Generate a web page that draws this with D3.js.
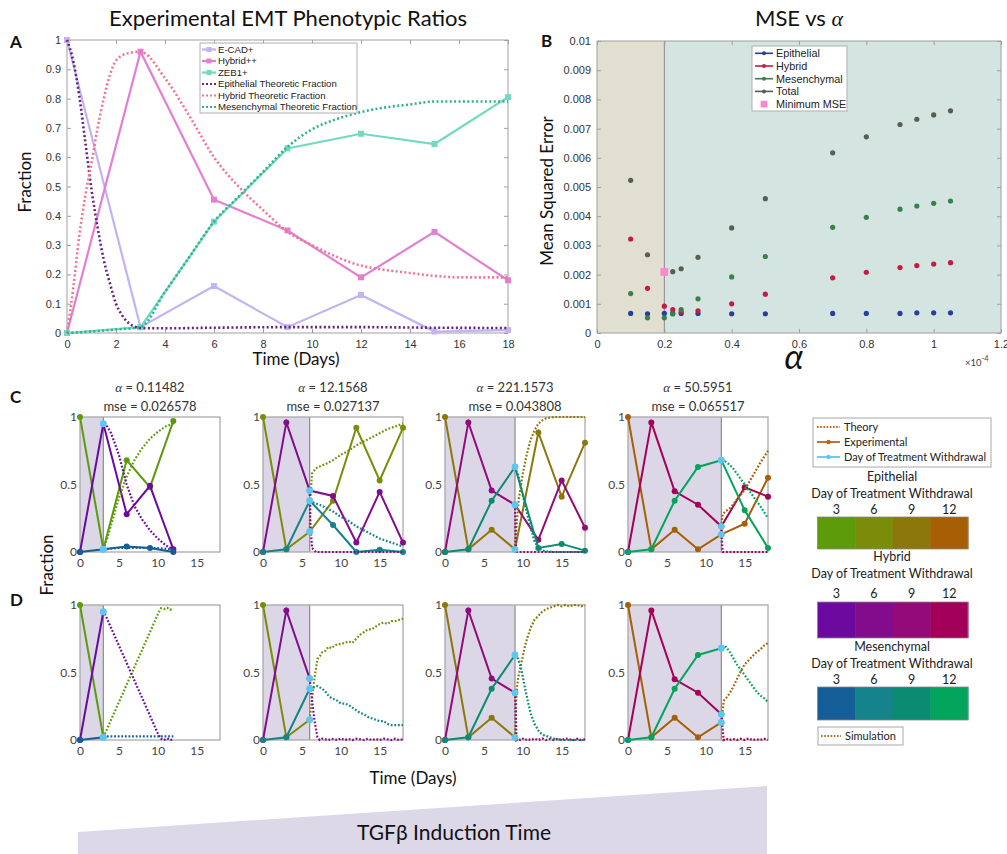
<!DOCTYPE html>
<html>
<head>
<meta charset="utf-8">
<script src="https://cdn.jsdelivr.net/npm/d3@7"></script>
<style>
    body { margin: 0; background: #fff; }
    svg text { font-family: Lato, "Open Sans", sans-serif; }
    .mat text { font-family: "Liberation Sans", Arial, sans-serif; }
</style>
</head>
<body>
<svg id="fig" width="1007" height="854"></svg>
<script>
// ---------------- Panel A data ----------------
var daysA = [0, 3, 6, 9, 12, 15, 18];
var ecadA = [1.0, 0.02, 0.16, 0.02, 0.13, 0.005, 0.01];
var hybridA = [0, 0.96, 0.455, 0.35, 0.19, 0.345, 0.18];
var zebA = [0, 0.02, 0.38, 0.63, 0.68, 0.645, 0.805];

var epiTheoryTA = [0, 0.25, 0.5, 0.75, 1, 1.25, 1.5, 1.75, 2, 2.25, 2.5, 2.75, 3, 4, 6, 9, 12, 15, 18];
var epiTheoryA = [1.0, 0.93, 0.81, 0.65, 0.49, 0.36, 0.25, 0.17, 0.1, 0.06, 0.035, 0.022, 0.017, 0.016, 0.018, 0.02, 0.02, 0.018, 0.017];
var hybTheoryTA = [0, 0.25, 0.5, 0.75, 1, 1.25, 1.5, 1.75, 2, 2.5, 3, 4, 5, 6, 7, 8, 9, 10, 11, 12, 13, 14, 15, 16, 17, 18];
var hybTheoryA = [0, 0.15, 0.33, 0.47, 0.58, 0.7, 0.8, 0.88, 0.93, 0.955, 0.96, 0.87, 0.74, 0.6, 0.5, 0.42, 0.345, 0.3, 0.26, 0.23, 0.215, 0.205, 0.195, 0.19, 0.19, 0.19];
var mesTheoryTA = [0, 1, 2, 3, 4, 5, 6, 7, 8, 9, 10, 11, 12, 13, 14, 15, 16, 17, 18];
var mesTheoryA = [0, 0.005, 0.012, 0.02, 0.14, 0.26, 0.38, 0.465, 0.55, 0.635, 0.695, 0.73, 0.754, 0.77, 0.78, 0.79, 0.79, 0.79, 0.79];

var xTicksA = [0, 2, 4, 6, 8, 10, 12, 14, 16, 18];
var yTicksA = [0, 0.1, 0.2, 0.3, 0.4, 0.5, 0.6, 0.7, 0.8, 0.9, 1];
var legendA = ["E-CAD+", "Hybrid++", "ZEB1+", "Epithelial Theoretic Fraction", "Hybrid Theoretic Fraction", "Mesenchymal Theoretic Fraction"];

// ---------------- Panel B data ----------------
var alphaB = [0.1, 0.15, 0.2, 0.225, 0.25, 0.3, 0.4, 0.5, 0.7, 0.8, 0.9, 0.95, 1.0, 1.05];
var epiB = [0.00067, 0.00066, 0.00067, 0.00067, 0.00067, 0.00067, 0.00066, 0.00066, 0.00067, 0.00067, 0.00067, 0.00069, 0.00069, 0.00069];
var hybB = [0.00322, 0.00153, 0.00092, 0.0008, 0.00072, 0.00076, 0.001, 0.00133, 0.00189, 0.00208, 0.00224, 0.00231, 0.00236, 0.00241];
var mesB = [0.00135, 0.00052, 0.00052, 0.00065, 0.0008, 0.00117, 0.00192, 0.00262, 0.00362, 0.00396, 0.00424, 0.00435, 0.00444, 0.00452];
var totB = [0.00523, 0.00268, 0.00209, 0.0021, 0.0022, 0.00259, 0.0036, 0.0046, 0.00617, 0.00672, 0.00714, 0.00732, 0.00747, 0.00761];
var minMSE = [0.2, 0.00209];
var xTicksB = [0, 0.2, 0.4, 0.6, 0.8, 1, 1.2];
var yTicksB = [0, 0.001, 0.002, 0.003, 0.004, 0.005, 0.006, 0.007, 0.008, 0.009, 0.01];
var legendB = ["Epithelial", "Hybrid", "Mesenchymal", "Total", "Minimum MSE"];

// ---------------- Panels C / D data ----------------
var withdrawDays = [3, 6, 9, 12];
var alphaLabels = ["0.11482", "12.1568", "221.1573", "50.5951"];
var mseLabels = ["0.026578", "0.027137", "0.043808", "0.065517"];

var expDays = [[0, 3, 6, 9, 12], [0, 3, 6, 9, 12, 15, 18], [0, 3, 6, 9, 12, 15, 18], [0, 3, 6, 9, 12, 15, 18]];
var epiExp = [[1, 0.02, 0.68, 0.48, 0.97], [1, 0.02, 0.15, 0.38, 0.92, 0.53, 0.92], [1, 0.02, 0.165, 0.02, 0.885, 0.41, 0.81], [1, 0.02, 0.165, 0.02, 0.13, 0.21, 0.55]];
var hybExp = [[0, 0.95, 0.28, 0.49, 0.02], [0, 0.96, 0.455, 0.415, 0.07, 0.445, 0.07], [0, 0.96, 0.455, 0.35, 0.09, 0.53, 0.18], [0, 0.96, 0.45, 0.35, 0.19, 0.48, 0.41]];
var mesExp = [[0, 0.02, 0.04, 0.03, 0.0], [0, 0.02, 0.38, 0.2, 0.0, 0.017, 0.0], [0, 0.02, 0.38, 0.63, 0.03, 0.06, 0.01], [0, 0.02, 0.38, 0.63, 0.68, 0.31, 0.03]];

var theoryT = [
    [3, 3.5, 4, 5, 6, 7, 8, 9, 10, 11, 12],
    [6, 6.1, 6.3, 6.8, 7.5, 8, 9, 10, 11, 12, 13, 14, 15, 16, 17, 18],
    [9, 9.1, 9.2, 9.5, 10, 10.5, 11, 11.5, 12, 12.5, 13, 14, 15, 16, 17, 18],
    [12, 12.1, 12.2, 12.5, 13, 13.5, 14, 15, 16, 17, 18]
];
var epiTheory = [
    [0.02, 0.1, 0.2, 0.4, 0.56, 0.68, 0.77, 0.84, 0.89, 0.93, 0.95],
    [0.15, 0.4, 0.58, 0.62, 0.64, 0.65, 0.68, 0.72, 0.75, 0.79, 0.82, 0.85, 0.88, 0.91, 0.93, 0.95],
    [0.02, 0.12, 0.2, 0.4, 0.58, 0.72, 0.83, 0.9, 0.95, 0.975, 0.99, 1.0, 1.0, 1.0, 1.0, 1.0],
    [0.13, 0.26, 0.28, 0.3, 0.32, 0.35, 0.39, 0.46, 0.56, 0.66, 0.75]
];
var hybTheory = [
    [0.95, 0.93, 0.88, 0.72, 0.5, 0.34, 0.24, 0.16, 0.1, 0.05, 0.02],
    [0.455, 0.2, 0.03, 0.0, 0.0, 0.0, 0.0, 0.0, 0.0, 0.0, 0.0, 0.0, 0.0, 0.0, 0.0, 0.0],
    [0.35, 0.05, 0.0, 0.0, 0.0, 0.0, 0.0, 0.0, 0.0, 0.0, 0.0, 0.0, 0.0, 0.0, 0.0, 0.0],
    [0.19, 0.05, 0.0, 0.0, 0.0, 0.0, 0.0, 0.0, 0.0, 0.0, 0.0]
];
var mesTheory = [
    [0.02, 0.022, 0.025, 0.03, 0.03, 0.03, 0.03, 0.03, 0.028, 0.025, 0.02],
    [0.38, 0.375, 0.37, 0.36, 0.345, 0.33, 0.3, 0.26, 0.23, 0.19, 0.16, 0.13, 0.1, 0.08, 0.06, 0.04],
    [0.63, 0.62, 0.6, 0.55, 0.42, 0.3, 0.18, 0.08, 0.03, 0.012, 0.005, 0.0, 0.0, 0.0, 0.0, 0.0],
    [0.68, 0.68, 0.675, 0.67, 0.65, 0.62, 0.58, 0.5, 0.42, 0.34, 0.25]
];

var simT = [
    [3, 4, 5, 6, 7, 8, 9, 10, 10.4, 10.8, 11.2, 11.6, 12],
    [6, 6.3, 6.6, 7, 7.3, 7.6, 8, 8.4, 8.8, 9.2, 9.6, 10, 10.5, 11, 11.5, 12, 12.5, 13, 13.5, 14, 14.5, 15, 15.5, 16, 16.5, 17, 17.5, 18],
    [9, 9.2, 9.4, 9.7, 10, 10.3, 10.6, 11, 11.5, 12, 12.5, 13, 13.5, 14, 14.5, 15, 15.5, 16, 16.5, 17, 17.5, 18],
    [12, 12.3, 12.6, 13, 13.5, 14, 14.5, 15, 15.5, 16, 16.5, 17, 17.5, 18]
];
var epiSim = [
    [0.02, 0.15, 0.28, 0.41, 0.54, 0.67, 0.8, 0.93, 0.975, 0.97, 0.98, 0.965, 0.975],
    [0.15, 0.3, 0.45, 0.6, 0.62, 0.65, 0.66, 0.69, 0.68, 0.7, 0.71, 0.71, 0.72, 0.73, 0.72, 0.75, 0.78, 0.8, 0.82, 0.82, 0.84, 0.86, 0.87, 0.86, 0.88, 0.88, 0.89, 0.9],
    [0.02, 0.36, 0.46, 0.54, 0.62, 0.7, 0.76, 0.83, 0.89, 0.92, 0.95, 0.97, 0.98, 0.99, 1.0, 0.99, 1.0, 0.99, 1.0, 1.0, 0.99, 1.0],
    [0.13, 0.29, 0.31, 0.34, 0.39, 0.45, 0.51, 0.56, 0.59, 0.62, 0.65, 0.67, 0.7, 0.72]
];
var hybSim = [
    [0.96, 0.83, 0.7, 0.57, 0.44, 0.31, 0.18, 0.05, 0.01, 0.0, 0.012, 0.0, 0.005],
    [0.455, 0.3, 0.15, 0.02, 0.0, 0.01, 0.005, 0.0, 0.01, 0.005, 0.0, 0.012, 0.0, 0.008, 0.0, 0.01, 0.005, 0.0, 0.01, 0.0, 0.008, 0.0, 0.01, 0.005, 0.0, 0.01, 0.0, 0.005],
    [0.35, 0.0, 0.01, 0.0, 0.01, 0.0, 0.008, 0.0, 0.01, 0.0, 0.012, 0.0, 0.008, 0.0, 0.01, 0.0, 0.012, 0.005, 0.0, 0.01, 0.0, 0.005],
    [0.19, 0.0, 0.01, 0.0, 0.008, 0.0, 0.01, 0.0, 0.012, 0.0, 0.005, 0.0, 0.01, 0.0]
];
var mesSim = [
    [0.027, 0.027, 0.027, 0.027, 0.027, 0.027, 0.027, 0.027, 0.027, 0.027, 0.027, 0.027, 0.027],
    [0.38, 0.39, 0.39, 0.4, 0.39, 0.38, 0.36, 0.33, 0.31, 0.3, 0.29, 0.27, 0.27, 0.26, 0.24, 0.22, 0.2, 0.19, 0.17, 0.16, 0.15, 0.14, 0.14, 0.12, 0.11, 0.11, 0.11, 0.11],
    [0.63, 0.62, 0.6, 0.55, 0.47, 0.38, 0.3, 0.2, 0.12, 0.07, 0.04, 0.03, 0.02, 0.01, 0.005, 0, 0, 0, 0, 0, 0, 0],
    [0.68, 0.69, 0.69, 0.66, 0.61, 0.56, 0.52, 0.48, 0.44, 0.4, 0.36, 0.33, 0.31, 0.28]
];

var epiColors = ["#5d9b0b", "#7b8c0a", "#8c770a", "#a65f05"];
var hybColors = ["#6c0aa0", "#830c8c", "#930a78", "#a3005a"];
var mesColors = ["#165e98", "#15838a", "#0b8b72", "#03a55c"];
var withdrawColor = "#5cc8f2";

var svg = d3.select("#fig");

function pairs(xs, ys) { return d3.zip(xs, ys); }

// ================= Panel A =================
var xA = d3.scaleLinear().domain([0, 18]).range([67, 508]);
var yA = d3.scaleLinear().domain([0, 1]).range([333, 40]);
var gA = svg.append("g").attr("class", "mat");

gA.append("rect")
    .attr("x", xA(0)).attr("y", yA(1))
    .attr("width", xA(18) - xA(0)).attr("height", yA(0) - yA(1))
    .attr("fill", "#fff").attr("stroke", "#a0a0a0");

function matAxes(g, x, y, xt, yt, fmtX, fmtY) {
    var x0 = x.range()[0], x1 = x.range()[1], y0 = y.range()[0], y1 = y.range()[1];
    g.append("g").attr("transform", `translate(0,${y0})`)
        .call(d3.axisBottom(x).tickValues(xt).tickSize(-4).tickPadding(7).tickFormat(fmtX));
    g.append("g").attr("transform", `translate(0,${y1})`)
        .call(d3.axisTop(x).tickValues(xt).tickSize(-4).tickFormat(""));
    g.append("g").attr("transform", `translate(${x0},0)`)
        .call(d3.axisLeft(y).tickValues(yt).tickSize(-4).tickPadding(6).tickFormat(fmtY));
    g.append("g").attr("transform", `translate(${x1},0)`)
        .call(d3.axisRight(y).tickValues(yt).tickSize(-4).tickFormat(""));
    g.selectAll(".domain").remove();
    g.selectAll(".tick line").attr("stroke", "#a0a0a0");
    g.selectAll(".tick text").attr("fill", "#333").attr("font-size", 11)
        .attr("font-family", "Liberation Sans, Arial, sans-serif");
}
matAxes(gA, xA, yA, xTicksA, yTicksA, d3.format("d"), d => d);

var lineA = d3.line().x(d => xA(d[0])).y(d => yA(d[1]));

var solidA = [
    { vals: ecadA, color: "#c3b3f3" },
    { vals: hybridA, color: "#e37fd3" },
    { vals: zebA, color: "#72d9c2" }
];
var dottedA = [
    { t: epiTheoryTA, vals: epiTheoryA, color: "#6b1f88" },
    { t: hybTheoryTA, vals: hybTheoryA, color: "#f07592" },
    { t: mesTheoryTA, vals: mesTheoryA, color: "#2db393" }
];

solidA.forEach(s => {
    gA.append("path").datum(pairs(daysA, s.vals))
        .attr("d", lineA).attr("fill", "none")
        .attr("stroke", s.color).attr("stroke-width", 2.2);
    gA.selectAll(null).data(pairs(daysA, s.vals)).enter()
        .append("rect")
        .attr("x", d => xA(d[0]) - 3).attr("y", d => yA(d[1]) - 3)
        .attr("width", 6).attr("height", 6).attr("fill", s.color);
});
dottedA.forEach(s => {
    gA.append("path").datum(pairs(s.t, s.vals))
        .attr("d", lineA.curve(d3.curveMonotoneX)).attr("fill", "none")
        .attr("stroke", s.color).attr("stroke-width", 2.6)
        .attr("stroke-dasharray", "2,2.4");
});
lineA.curve(d3.curveLinear);

// legend A
var legA = gA.append("g");
legA.append("rect").attr("x", 200).attr("y", 43).attr("width", 157).attr("height", 70)
    .attr("fill", "#fff").attr("stroke", "#b0b0b0");
var legAStyles = solidA.map(s => ({ color: s.color, dash: null })).concat(dottedA.map(s => ({ color: s.color, dash: "2,2" })));
legendA.forEach((name, i) => {
    var yy = 49.5 + i * 11.5;
    legA.append("line").attr("x1", 202).attr("x2", 216).attr("y1", yy).attr("y2", yy)
        .attr("stroke", legAStyles[i].color).attr("stroke-width", 2.2)
        .attr("stroke-dasharray", legAStyles[i].dash);
    if (!legAStyles[i].dash) {
        legA.append("rect").attr("x", 206.5).attr("y", yy - 2.5).attr("width", 5).attr("height", 5)
            .attr("fill", legAStyles[i].color);
    }
    legA.append("text").attr("x", 218).attr("y", yy + 3.4).attr("font-size", 9.6)
        .attr("fill", "#222").text(name);
});

svg.append("text").attr("x", 288).attr("y", 26).attr("text-anchor", "middle")
    .attr("font-size", 22).attr("fill", "#111").text("Experimental EMT Phenotypic Ratios");
svg.append("text").attr("x", 296).attr("y", 365).attr("text-anchor", "middle")
    .attr("font-size", 17).attr("fill", "#111").text("Time (Days)");
svg.append("text").attr("transform", "translate(31,182) rotate(-90)").attr("text-anchor", "middle")
    .attr("font-size", 17).attr("fill", "#111").text("Fraction");

// ================= Panel B =================
var xB = d3.scaleLinear().domain([0, 1.2]).range([597, 1001]);
var yB = d3.scaleLinear().domain([0, 0.01]).range([333, 41]);
var gB = svg.append("g").attr("class", "mat");

gB.append("rect").attr("x", xB(0)).attr("y", yB(0.01))
    .attr("width", xB(0.2) - xB(0)).attr("height", yB(0) - yB(0.01)).attr("fill", "#e1dfd0");
gB.append("rect").attr("x", xB(0.2)).attr("y", yB(0.01))
    .attr("width", xB(1.2) - xB(0.2)).attr("height", yB(0) - yB(0.01)).attr("fill", "#d3e4e1");
gB.append("line").attr("x1", xB(0.2)).attr("x2", xB(0.2)).attr("y1", yB(0)).attr("y2", yB(0.01))
    .attr("stroke", "#888").attr("stroke-width", 1);
gB.append("rect").attr("x", xB(0)).attr("y", yB(0.01))
    .attr("width", xB(1.2) - xB(0)).attr("height", yB(0) - yB(0.01))
    .attr("fill", "none").attr("stroke", "#a0a0a0");
matAxes(gB, xB, yB, xTicksB, yTicksB, d => d, d => d);

var seriesB = [
    { vals: epiB, color: "#2b3d9b" },
    { vals: hybB, color: "#c41a44" },
    { vals: mesB, color: "#3b7f4d" },
    { vals: totB, color: "#5a5d52" }
];
seriesB.forEach(s => {
    gB.selectAll(null).data(pairs(alphaB, s.vals)).enter()
        .append("circle")
        .attr("cx", d => xB(d[0])).attr("cy", d => yB(d[1]))
        .attr("r", 2.6).attr("fill", s.color);
});
gB.append("path")
    .attr("transform", `translate(${xB(minMSE[0])},${yB(minMSE[1])})`)
    .attr("d", d3.symbol(d3.symbolSquare, 60)())
    .attr("fill", "#ff86cf");

// legend B
var legB = gB.append("g");
legB.append("rect").attr("x", 752).attr("y", 46).attr("width", 95).attr("height", 65)
    .attr("fill", "#fff").attr("stroke", "#b0b0b0");
legendB.forEach((name, i) => {
    var yy = 53.3 + i * 12.7;
    if (i < 4) {
        legB.append("line").attr("x1", 755).attr("x2", 773).attr("y1", yy).attr("y2", yy)
            .attr("stroke", seriesB[i].color).attr("stroke-width", 1.6);
        legB.append("circle").attr("cx", 764).attr("cy", yy).attr("r", 2).attr("fill", seriesB[i].color);
    } else {
        legB.append("path").attr("transform", `translate(764,${yy})`)
            .attr("d", d3.symbol(d3.symbolSquare, 45)()).attr("fill", "#ff86cf");
    }
    legB.append("text").attr("x", 776).attr("y", yy + 3.8).attr("font-size", 10.8)
        .attr("fill", "#222").text(name);
});

var titleB = svg.append("text").attr("x", 799).attr("y", 26).attr("text-anchor", "middle")
    .attr("font-size", 22).attr("fill", "#111");
titleB.append("tspan").text("MSE vs ");
titleB.append("tspan").attr("font-family", "Liberation Serif, serif").attr("font-style", "italic").text("α");

svg.append("text").attr("transform", "translate(553,191) rotate(-90)").attr("text-anchor", "middle")
    .attr("font-size", 17).attr("fill", "#111").text("Mean Squared Error");
svg.append("text").attr("x", 794).attr("y", 369).attr("text-anchor", "middle")
    .attr("font-family", "Liberation Serif, serif").attr("font-style", "italic")
    .attr("font-size", 34).attr("fill", "#111").text("α");
var expo = svg.append("text").attr("x", 965).attr("y", 366)
    .attr("font-family", "Liberation Sans, Arial, sans-serif").attr("font-size", 9.5).attr("fill", "#444");
expo.append("tspan").text("×10");
expo.append("tspan").attr("dy", -5).attr("font-size", 7.5).text("-4");

// ================= Panels C and D =================
var subLefts = [80, 263, 445, 628];
var subWidth = 140;

function drawSubplot(top, bottom, i, mode) {
    var left = subLefts[i];
    var wd = withdrawDays[i];
    var x = d3.scaleLinear().domain([0, 18]).range([left, left + subWidth]);
    var y = d3.scaleLinear().domain([0, 1]).range([bottom, top]);
    var g = svg.append("g");
    var line = d3.line().x(d => x(d[0])).y(d => y(d[1]));

    // treatment period shading
    g.append("rect").attr("x", x(0)).attr("y", top)
        .attr("width", x(wd) - x(0)).attr("height", bottom - top).attr("fill", "#dcd7e6");
    g.append("line").attr("x1", x(wd)).attr("x2", x(wd)).attr("y1", top).attr("y2", bottom)
        .attr("stroke", "#8c8c8c").attr("stroke-width", 1.2);
    g.append("rect").attr("x", x(0)).attr("y", top)
        .attr("width", subWidth).attr("height", bottom - top)
        .attr("fill", "none").attr("stroke", "#a3a3a3").attr("stroke-width", 1.2);

    // axes: labels only
    g.append("g").attr("transform", `translate(${left},0)`)
        .call(d3.axisLeft(y).tickValues([0, 0.5, 1]).tickSize(0).tickPadding(3).tickFormat(d => d));
    g.append("g").attr("transform", `translate(0,${bottom})`)
        .call(d3.axisBottom(x).tickValues([0, 5, 10, 15]).tickSize(0).tickPadding(6));
    g.selectAll(".domain").remove();
    g.selectAll(".tick text").attr("font-size", 12).attr("fill", "#444")
        .attr("font-family", "Lato, sans-serif");

    var days = expDays[i].filter(d => mode === "C" || d <= wd);
    var exp = [
        { vals: epiExp[i], color: epiColors[i] },
        { vals: hybExp[i], color: hybColors[i] },
        { vals: mesExp[i], color: mesColors[i] }
    ];
    var dotted = mode === "C"
        ? [{ t: theoryT[i], vals: epiTheory[i], color: epiColors[i] },
           { t: theoryT[i], vals: hybTheory[i], color: hybColors[i] },
           { t: theoryT[i], vals: mesTheory[i], color: mesColors[i] }]
        : [{ t: simT[i], vals: epiSim[i], color: epiColors[i] },
           { t: simT[i], vals: hybSim[i], color: hybColors[i] },
           { t: simT[i], vals: mesSim[i], color: mesColors[i] }];

    exp.forEach(s => {
        var pts = pairs(days, s.vals.slice(0, days.length));
        g.append("path").datum(pts).attr("d", line).attr("fill", "none")
            .attr("stroke", s.color).attr("stroke-width", 2);
        g.selectAll(null).data(pts).enter().append("circle")
            .attr("cx", d => x(d[0])).attr("cy", d => y(d[1])).attr("r", 3).attr("fill", s.color);
    });
    dotted.forEach(s => {
        g.append("path").datum(pairs(s.t, s.vals)).attr("d", line).attr("fill", "none")
            .attr("stroke", s.color).attr("stroke-width", 2.2).attr("stroke-dasharray", "1.8,1.8");
    });
    // day of treatment withdrawal markers
    var wIdx = expDays[i].indexOf(wd);
    g.selectAll(null).data(exp.map(s => [wd, s.vals[wIdx]])).enter().append("circle")
        .attr("cx", d => x(d[0])).attr("cy", d => y(d[1])).attr("r", 3.4).attr("fill", withdrawColor);

    if (mode === "C") {
        var t1 = g.append("text").attr("x", left + subWidth / 2).attr("y", 392)
            .attr("text-anchor", "middle").attr("font-size", 13).attr("fill", "#333");
        t1.append("tspan").attr("font-family", "Liberation Serif, serif").attr("font-style", "italic").text("α");
        t1.append("tspan").text(" = " + alphaLabels[i]);
        g.append("text").attr("x", left + subWidth / 2).attr("y", 411)
            .attr("text-anchor", "middle").attr("font-size", 13).attr("fill", "#333")
            .text("mse = " + mseLabels[i]);
    }
}

withdrawDays.forEach((d, i) => {
    drawSubplot(417, 552, i, "C");
    drawSubplot(605, 740, i, "D");
});

svg.append("text").attr("transform", "translate(53,565) rotate(-90)").attr("text-anchor", "middle")
    .attr("font-size", 17).attr("fill", "#111").text("Fraction");
svg.append("text").attr("x", 413).attr("y", 784).attr("text-anchor", "middle")
    .attr("font-size", 17).attr("fill", "#111").text("Time (Days)");

// ================= Right legend =================
var gL = svg.append("g");
gL.append("rect").attr("x", 813).attr("y", 418).attr("width", 178).attr("height", 49)
    .attr("fill", "#fff").attr("stroke", "#a8a8a8");
var legItems = [
    { name: "Theory", color: "#b8651a", dash: "1.6,1.6", dot: false },
    { name: "Experimental", color: "#b8651a", dash: null, dot: true },
    { name: "Day of Treatment Withdrawal", color: withdrawColor, dash: null, dot: true }
];
legItems.forEach((it, i) => {
    var yy = 427 + i * 15;
    gL.append("line").attr("x1", 817).attr("x2", 840).attr("y1", yy).attr("y2", yy)
        .attr("stroke", it.color).attr("stroke-width", 1.8).attr("stroke-dasharray", it.dash);
    if (it.dot) gL.append("circle").attr("cx", 828.5).attr("cy", yy).attr("r", 2.2).attr("fill", it.color);
    gL.append("text").attr("x", 844).attr("y", yy + 4).attr("font-size", 11).attr("fill", "#222").text(it.name);
});

var bars = [
    { name: "Epithelial", colors: epiColors, top: 481 },
    { name: "Hybrid", colors: hybColors, top: 561 },
    { name: "Mesenchymal", colors: mesColors, top: 651 }
];
var barHeights = [32, 36, 33];
var barOffsets = [36, 41, 36];
var tickOffsets = [33, 37, 33];
var xBar = d3.scaleBand().domain(withdrawDays).range([817.5, 968]).paddingInner(0);
bars.forEach((b, k) => {
    gL.append("text").attr("x", 892).attr("y", b.top).attr("text-anchor", "middle")
        .attr("font-size", 12.5).attr("fill", "#222").text(b.name);
    gL.append("text").attr("x", 892).attr("y", b.top + 17).attr("text-anchor", "middle")
        .attr("font-size", 12.5).attr("fill", "#222").text("Day of Treatment Withdrawal");
    gL.selectAll(null).data(withdrawDays).enter().append("text")
        .attr("x", d => xBar(d) + xBar.bandwidth() / 2).attr("y", b.top + tickOffsets[k])
        .attr("text-anchor", "middle").attr("font-size", 12.5).attr("fill", "#222").text(d => d);
    gL.selectAll(null).data(withdrawDays).enter().append("rect")
        .attr("x", d => xBar(d)).attr("y", b.top + barOffsets[k])
        .attr("width", xBar.bandwidth() + 0.5).attr("height", barHeights[k])
        .attr("fill", (d, j) => b.colors[j]);
    gL.append("rect").attr("x", 817.5).attr("y", b.top + barOffsets[k])
        .attr("width", 150.5).attr("height", barHeights[k])
        .attr("fill", "none").attr("stroke", "#888").attr("stroke-width", 0.8);
});
gL.append("rect").attr("x", 818).attr("y", 727).attr("width", 85).attr("height", 18)
    .attr("fill", "#fff").attr("stroke", "#a8a8a8");
gL.append("line").attr("x1", 821).attr("x2", 841).attr("y1", 736).attr("y2", 736)
    .attr("stroke", "#b8651a").attr("stroke-width", 1.8).attr("stroke-dasharray", "1.6,1.6");
gL.append("text").attr("x", 845).attr("y", 740).attr("font-size", 11).attr("fill", "#222").text("Simulation");

// ================= Bottom induction wedge =================
svg.append("polygon")
    .attr("points", "78,832 767,786 767,854 78,854")
    .attr("fill", "#dcd8e8");
svg.append("text").attr("x", 454).attr("y", 840).attr("text-anchor", "middle")
    .attr("font-size", 21).attr("fill", "#111").text("TGFβ Induction Time");

// panel letters
[["A", 10, 48], ["B", 541, 47], ["C", 10, 403], ["D", 10, 606]].forEach(p => {
    svg.append("text").attr("x", p[1]).attr("y", p[2])
        .attr("font-family", "Liberation Sans, Arial, sans-serif").attr("font-weight", "bold")
        .attr("font-size", 17).attr("fill", "#111").text(p[0]);
});
</script>
</body>
</html>
